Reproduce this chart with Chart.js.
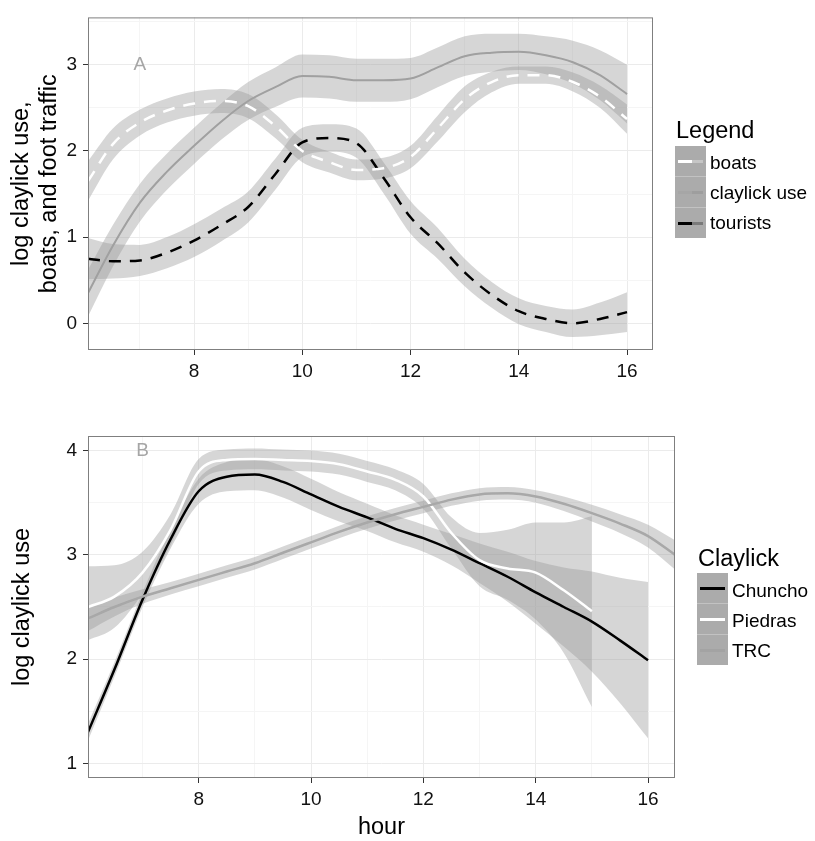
<!DOCTYPE html>
<html>
<head>
<meta charset="utf-8">
<script src="https://cdn.jsdelivr.net/npm/chart.js@4/dist/chart.umd.min.js"></script>
<style>
  body { margin: 0; background: #fff; font-family: 'Liberation Sans', Arial, sans-serif; }
  #wrap { position: relative; width: 815px; height: 841px; overflow: hidden; }
  canvas { position: absolute; left: 0; }
  .ttl { position: absolute; font-size: 23.5px; line-height: 1; color: #000; white-space: nowrap; }
  .lab { position: absolute; font-size: 19px; line-height: 1; color: #000; white-space: nowrap; }
  .keys { position: absolute; width: 31px; background: #ababab; }
  .key { height: 30px; border-bottom: 1px solid #c2c2c2; position: relative; }
  .key:last-child { border-bottom: none; }
  .seg { position: absolute; top: 14px; height: 3px; }
</style>
</head>
<body>
<div id="wrap">
  <canvas id="chartA" width="815" height="400" style="top:0"></canvas>
  <canvas id="chartB" width="815" height="441" style="top:400px"></canvas>

  <div class="ttl" style="left:676px; top:119px">Legend</div>
  <div class="keys" style="left:675px; top:146px">
    <div class="key"><div class="seg" style="left:3px;width:14px;background:#fff"></div><div class="seg" style="left:17px;width:11px;background:#c6c6c6"></div></div>
    <div class="key"><div class="seg" style="left:3px;width:14px;background:#a6a6a6"></div><div class="seg" style="left:17px;width:11px;background:#9e9e9e"></div></div>
    <div class="key"><div class="seg" style="left:3px;width:14px;background:#000"></div><div class="seg" style="left:17px;width:11px;background:#7a7a7a"></div></div>
  </div>
  <div class="lab" style="left:710px; top:153px">boats</div>
  <div class="lab" style="left:710px; top:183px">claylick use</div>
  <div class="lab" style="left:710px; top:213px">tourists</div>

  <div class="ttl" style="left:698px; top:547px">Claylick</div>
  <div class="keys" style="left:697px; top:573px">
    <div class="key"><div class="seg" style="left:3px;width:25px;background:#000"></div></div>
    <div class="key"><div class="seg" style="left:3px;width:25px;background:#fff"></div></div>
    <div class="key"><div class="seg" style="left:3px;width:25px;background:#a3a3a3"></div></div>
  </div>
  <div class="lab" style="left:732px; top:581px">Chuncho</div>
  <div class="lab" style="left:732px; top:611px">Piedras</div>
  <div class="lab" style="left:732px; top:641px">TRC</div>
</div>

<script>
// Panel A: hour of day vs log counts
const hoursA = [6.04, 6.5, 7, 7.5, 8, 8.5, 9, 9.5, 10, 10.5, 11, 11.5, 12, 12.5, 13, 13.5, 14, 14.5, 15, 15.5, 16];
const claylickUse = [0.35, 0.90, 1.40, 1.76, 2.06, 2.34, 2.58, 2.74, 2.87, 2.86, 2.82, 2.82, 2.84, 2.97, 3.10, 3.14, 3.15, 3.11, 3.03, 2.88, 2.66];
const claylickLo  = [0.08, 0.66, 1.18, 1.55, 1.85, 2.13, 2.36, 2.51, 2.62, 2.61, 2.57, 2.57, 2.60, 2.74, 2.87, 2.92, 2.94, 2.89, 2.78, 2.59, 2.32];
const claylickHi  = [0.62, 1.14, 1.62, 1.97, 2.27, 2.55, 2.80, 2.97, 3.12, 3.11, 3.07, 3.07, 3.08, 3.20, 3.33, 3.36, 3.36, 3.33, 3.28, 3.17, 3.00];
const boats   = [1.65, 2.08, 2.33, 2.47, 2.55, 2.58, 2.52, 2.29, 2.00, 1.87, 1.78, 1.80, 1.93, 2.26, 2.60, 2.80, 2.88, 2.88, 2.80, 2.63, 2.37];
const boatsLo = [1.42, 1.90, 2.18, 2.33, 2.41, 2.44, 2.38, 2.15, 1.87, 1.75, 1.66, 1.68, 1.80, 2.11, 2.45, 2.68, 2.78, 2.78, 2.69, 2.50, 2.20];
const boatsHi = [1.88, 2.26, 2.48, 2.61, 2.69, 2.72, 2.66, 2.43, 2.13, 1.99, 1.90, 1.92, 2.06, 2.41, 2.75, 2.92, 2.98, 2.98, 2.91, 2.76, 2.54];
const tourists   = [0.75, 0.72, 0.73, 0.82, 0.96, 1.14, 1.35, 1.73, 2.10, 2.15, 2.09, 1.69, 1.23, 0.93, 0.59, 0.33, 0.14, 0.05, 0.00, 0.05, 0.13];
const touristsLo = [0.51, 0.52, 0.55, 0.64, 0.77, 0.95, 1.17, 1.55, 1.93, 1.99, 1.92, 1.51, 1.04, 0.75, 0.43, 0.18, -0.01, -0.10, -0.16, -0.14, -0.10];
const touristsHi = [0.99, 0.92, 0.91, 1.00, 1.15, 1.33, 1.53, 1.91, 2.27, 2.31, 2.26, 1.87, 1.42, 1.11, 0.75, 0.48, 0.29, 0.20, 0.16, 0.24, 0.36];

// Panel B: claylick use per site
const hoursB = [6.03, 6.5, 7, 7.5, 8, 8.5, 9, 9.5, 10, 10.5, 11, 11.5, 12, 12.5, 13, 13.5, 14, 14.5, 15, 15.5, 16, 16.48];
const chuncho   = [1.30, 1.90, 2.57, 3.15, 3.61, 3.75, 3.77, 3.70, 3.58, 3.46, 3.36, 3.25, 3.16, 3.05, 2.92, 2.79, 2.64, 2.50, 2.36, 2.18, 1.99, null];
const chunchoLo = [1.22, 1.83, 2.50, 3.06, 3.49, 3.61, 3.62, 3.55, 3.43, 3.32, 3.23, 3.12, 3.03, 2.90, 2.73, 2.55, 2.34, 2.12, 1.88, 1.58, 1.24, null];
const chunchoHi = [1.38, 1.97, 2.64, 3.24, 3.73, 3.89, 3.92, 3.85, 3.73, 3.60, 3.49, 3.38, 3.29, 3.20, 3.11, 3.03, 2.94, 2.88, 2.84, 2.78, 2.74, null];
const piedras   = [2.50, 2.60, 2.83, 3.24, 3.80, 3.91, 3.92, 3.91, 3.90, 3.87, 3.80, 3.72, 3.56, 3.21, 2.95, 2.87, 2.83, 2.66, 2.46, null, null, null];
const piedrasLo = [2.18, 2.30, 2.63, 3.09, 3.68, 3.81, 3.82, 3.81, 3.80, 3.77, 3.70, 3.62, 3.44, 3.06, 2.70, 2.57, 2.38, 2.06, 1.54, null, null, null];
const piedrasHi = [2.89, 2.90, 3.03, 3.39, 3.92, 4.01, 4.02, 4.01, 4.00, 3.97, 3.90, 3.82, 3.68, 3.36, 3.21, 3.24, 3.31, 3.31, 3.37, null, null, null];
const trc   = [2.39, 2.50, 2.60, 2.68, 2.76, 2.84, 2.92, 3.02, 3.12, 3.22, 3.31, 3.39, 3.46, 3.53, 3.58, 3.59, 3.56, 3.49, 3.40, 3.30, 3.18, 3.00];
const trcLo = [2.27, 2.41, 2.53, 2.62, 2.70, 2.78, 2.86, 2.96, 3.06, 3.16, 3.25, 3.33, 3.40, 3.47, 3.52, 3.53, 3.50, 3.42, 3.32, 3.21, 3.07, 2.86];
const trcHi = [2.51, 2.59, 2.67, 2.74, 2.82, 2.90, 2.98, 3.08, 3.18, 3.28, 3.37, 3.45, 3.52, 3.59, 3.64, 3.65, 3.62, 3.56, 3.48, 3.39, 3.29, 3.14];

// axis breaks (majors get labels, the rest are minor grid lines)
const xTicks = [7, 8, 9, 10, 11, 12, 13, 14, 15, 16];
const yTicksA = [0, 0.5, 1, 1.5, 2, 2.5, 3, 3.5];
const yTicksB = [1, 1.5, 2, 2.5, 3, 3.5, 4];

const FONT = "'Liberation Sans', Arial, sans-serif";
const RIBBON = 'rgba(153,153,153,0.4)';

function pts(hours, vals) {
  return hours.map((h, i) => ({ x: h, y: vals[i] })).filter(p => p.y !== null);
}

function ribbon(hours, lo, hi) {
  return [
    { data: pts(hours, lo), borderWidth: 0, pointRadius: 0, fill: false, order: 2, cubicInterpolationMode: 'monotone' },
    { data: pts(hours, hi), borderWidth: 0, pointRadius: 0, fill: '-1', backgroundColor: RIBBON, order: 2, cubicInterpolationMode: 'monotone' }
  ];
}

function line(hours, vals, color, width, dash) {
  return {
    data: pts(hours, vals), borderColor: color, borderWidth: width, borderDash: dash || [],
    pointRadius: 0, fill: false, order: 1, cubicInterpolationMode: 'monotone'
  };
}

// grey box round the panel plus the panel letter
const panelDecor = {
  id: 'panelDecor',
  afterDatasetsDraw(chart, args, opts) {
    const { ctx, chartArea: a, scales } = chart;
    ctx.save();
    ctx.fillStyle = '#a6a6a6';
    ctx.font = '19px ' + FONT;
    ctx.textAlign = 'center';
    ctx.textBaseline = 'middle';
    ctx.fillText(opts.letter, scales.x.getPixelForValue(opts.lx), scales.y.getPixelForValue(opts.ly));
    ctx.strokeStyle = '#7f7f7f';
    ctx.lineWidth = 1;
    ctx.strokeRect(a.left + 0.5, a.top + 0.5, a.right - a.left - 1, a.bottom - a.top - 1);
    ctx.restore();
  }
};

function makeOptions(cfg) {
  return {
    responsive: false,
    animation: false,
    devicePixelRatio: 1,
    layout: { padding: cfg.padding },
    plugins: {
      legend: { display: false },
      tooltip: { enabled: false },
      panelDecor: { letter: cfg.letter, lx: 7, ly: cfg.letterY }
    },
    scales: {
      x: {
        type: 'linear', min: cfg.xMin, max: 16.48,
        afterBuildTicks: s => { s.ticks = xTicks.map(v => ({ value: v })); },
        afterFit: s => { s.height = cfg.xHeight; },
        border: { display: false },
        grid: {
          color: c => (c.tick && c.tick.value % 2 === 0) ? '#ebebeb' : '#f5f5f5',
          tickColor: c => (c.tick && c.tick.value % 2 === 0) ? '#333' : 'rgba(0,0,0,0)',
          tickLength: 5, lineWidth: 1
        },
        ticks: {
          color: '#111', font: { family: FONT, size: 19 }, padding: 5, maxRotation: 0, autoSkip: false,
          callback: v => (v % 2 === 0 ? String(v) : '')
        },
        title: cfg.xTitle ? {
          display: true, text: cfg.xTitle, color: '#000',
          font: { family: FONT, size: 23.5, lineHeight: 1 }, padding: { top: 0, bottom: 2 }
        } : { display: false }
      },
      y: {
        type: 'linear', min: cfg.yMin, max: cfg.yMax,
        afterBuildTicks: s => { s.ticks = cfg.yTicks.map(v => ({ value: v })); },
        afterFit: s => { s.width = 88; },
        border: { display: false },
        grid: {
          color: c => (c.tick && Number.isInteger(c.tick.value)) ? '#ebebeb' : '#f5f5f5',
          tickColor: c => (c.tick && Number.isInteger(c.tick.value)) ? '#333' : 'rgba(0,0,0,0)',
          tickLength: 5, lineWidth: 1
        },
        ticks: {
          color: '#111', font: { family: FONT, size: 19 }, padding: 6, autoSkip: false,
          callback: v => (Number.isInteger(v) ? String(v) : '')
        },
        title: {
          display: true, text: cfg.yTitle, color: '#000',
          font: { family: FONT, size: 23.5, lineHeight: cfg.yTitleLH }, padding: { top: cfg.yTitlePad, bottom: 0 }
        }
      }
    }
  };
}

new Chart(document.getElementById('chartA'), {
  type: 'line',
  data: {
    datasets: [
      ...ribbon(hoursA, claylickLo, claylickHi),
      ...ribbon(hoursA, boatsLo, boatsHi),
      ...ribbon(hoursA, touristsLo, touristsHi),
      line(hoursA, claylickUse, '#a0a0a0', 2),
      line(hoursA, boats, '#ffffff', 2.5, [12, 9]),
      line(hoursA, tourists, '#000000', 2.5, [12, 9])
    ]
  },
  options: makeOptions({
    padding: { left: 0, top: 9, right: 162, bottom: 0 },
    xMin: 6.04, xHeight: 50, xTitle: null,
    yMin: -0.31, yMax: 3.55, yTicks: yTicksA,
    yTitle: ['log claylick use,', 'boats, and foot traffic'], yTitleLH: 1.15, yTitlePad: 8.5,
    letter: 'A', letterY: 3
  }),
  plugins: [panelDecor]
});

new Chart(document.getElementById('chartB'), {
  type: 'line',
  data: {
    datasets: [
      ...ribbon(hoursB, chunchoLo, chunchoHi),
      ...ribbon(hoursB, piedrasLo, piedrasHi),
      ...ribbon(hoursB, trcLo, trcHi),
      line(hoursB, trc, '#a8a8a8', 2.5),
      line(hoursB, piedras, '#ffffff', 2.5),
      line(hoursB, chuncho, '#000000', 2.5)
    ]
  },
  options: makeOptions({
    padding: { left: 0, top: 36, right: 140, bottom: 0 },
    xMin: 6.03, xHeight: 63, xTitle: 'hour',
    yMin: 0.86, yMax: 4.14, yTicks: yTicksB,
    yTitle: 'log claylick use', yTitleLH: 1, yTitlePad: 11,
    letter: 'B', letterY: 4
  }),
  plugins: [panelDecor]
});
</script>
</body>
</html>
